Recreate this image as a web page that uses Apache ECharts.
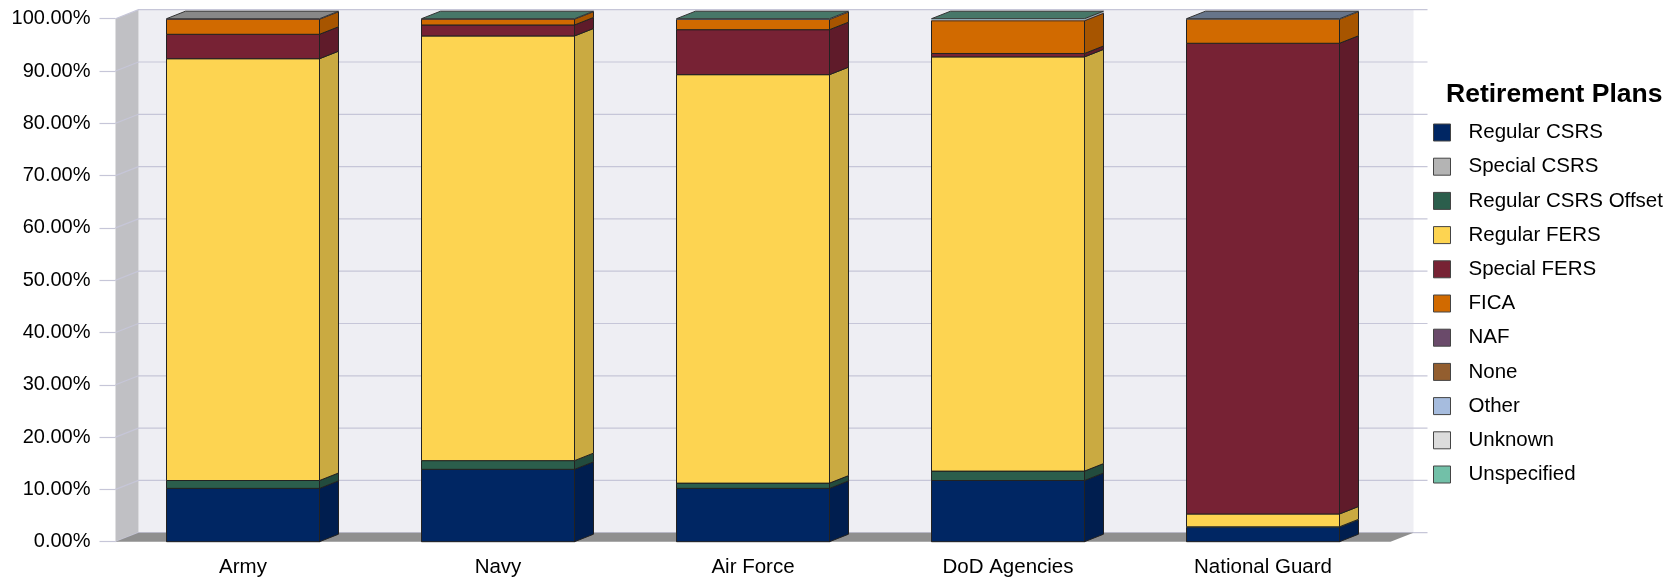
<!DOCTYPE html>
<html><head><meta charset="utf-8">
<script src="https://cdn.jsdelivr.net/npm/echarts@6/dist/echarts.min.js"></script>
<style>html,body{margin:0;padding:0;background:#fff}#c{width:1679px;height:581px}</style>
</head><body><div id="c"></div>
<script>
// ---- data ----
const categories = ['Army', 'Navy', 'Air Force', 'DoD Agencies', 'National Guard'];
const planNames = ['Regular CSRS', 'Special CSRS', 'Regular CSRS Offset', 'Regular FERS', 'Special FERS', 'FICA', 'NAF', 'None', 'Other', 'Unknown', 'Unspecified'];
const regularCSRS       = [10.20, 13.84, 10.20, 11.70,  2.75];
const specialCSRS       = [ 0.00,  0.00,  0.00,  0.00,  0.00];
const regularCSRSOffset = [ 1.50,  1.66,  1.00,  1.80,  0.10];
const regularFERS       = [80.65, 81.20, 78.10, 79.20,  2.45];
const specialFERS       = [ 4.67,  2.10,  8.60,  0.65, 90.00];
const fica              = [ 2.87,  1.10,  1.95,  6.25,  4.60];
const naf               = [ 0.04,  0.03,  0.03,  0.05,  0.00];
const none              = [ 0.00,  0.00,  0.00,  0.10,  0.00];
const other             = [ 0.05,  0.03,  0.04,  0.15,  0.10];
const unknown           = [ 0.02,  0.00,  0.00,  0.00,  0.00];
const unspecified       = [ 0.00,  0.04,  0.08,  0.10,  0.00];
const yTicks = [0, 10, 20, 30, 40, 50, 60, 70, 80, 90, 100];

const seriesValues = [regularCSRS, specialCSRS, regularCSRSOffset, regularFERS, specialFERS, fica, naf, none, other, unknown, unspecified];
const colors = ['#002663', '#b4b4b4', '#2b5e4c', '#fdd451', '#772234', '#d16a00', '#6a4a6a', '#935e2f', '#a6bcde', '#dcdcdc', '#72c0a8'];

// ---- derived stacking ----
const cum = seriesValues.map((vals, s) => vals.map((_, i) => {
  let b = 0; for (let k = 0; k < s; k++) b += seriesValues[k][i]; return b;
}));
const topIdx = categories.map((_, i) => {
  let t = -1; seriesValues.forEach((vals, s) => { if (vals[i] > 0) t = s; }); return t;
});

function shade(hex, f) {
  const n = parseInt(hex.slice(1), 16);
  const r = Math.round(((n >> 16) & 255) * f), g = Math.round(((n >> 8) & 255) * f), b = Math.round((n & 255) * f);
  return 'rgb(' + r + ',' + g + ',' + b + ')';
}

const DX = 19, DY = 7.5;      // bar depth
const WX = 23, WY = 9;        // wall depth
const FONT = 'Liberation Sans, Arial, sans-serif';

function makeRender(s) {
  const c = colors[s];
  return function (params, api) {
    const i = api.value(0), v = api.value(1);
    if (!(v > 0)) return null;
    const base = cum[s][i];
    const p0 = api.coord([i, base]);
    const p1 = api.coord([i, base + v]);
    const bw = api.size([1, 0])[0] * 0.6;
    const x0 = p0[0] - bw / 2, x1 = p0[0] + bw / 2;
    const yb = p0[1], yt = p1[1];
    const thin = (yb - yt) < 2;
    const st = thin ? null : '#222';
    const children = [
      { type: 'polygon', shape: { points: [[x1, yb], [x1 + DX, yb - DY], [x1 + DX, yt - DY], [x1, yt]] },
        style: { fill: shade(c, 0.8), stroke: st, lineWidth: 1 } },
      { type: 'rect', shape: { x: x0, y: yt, width: bw, height: yb - yt },
        style: { fill: c, stroke: st, lineWidth: 1 } }
    ];
    if (topIdx[i] === s) {
      children.push({ type: 'polygon', shape: { points: [[x0, yt], [x1, yt], [x1 + DX, yt - DY], [x0 + DX, yt - DY]] },
        style: { fill: shade(c, 0.62), stroke: '#333', lineWidth: 1 } });
    }
    return { type: 'group', children: children };
  };
}

const planSeries = planNames.map((name, s) => ({
  name: name,
  type: 'custom',
  z: 5,
  clip: false,
  itemStyle: { color: colors[s] },
  encode: { x: 0, y: 1 },
  data: categories.map((_, i) => [i, seriesValues[s][i]]),
  renderItem: makeRender(s)
}));

// walls & floor
const wallSeries = {
  type: 'custom', z: 1, clip: false, silent: true,
  data: [[0, 0]],
  renderItem: function (params, api) {
    const band = api.size([1, 0])[0];
    const xl = api.coord([0, 0])[0] - band / 2;
    const xr = api.coord([categories.length - 1, 0])[0] + band / 2;
    const y0 = api.coord([0, 0])[1];
    const y1 = api.coord([0, 100])[1];
    return { type: 'group', children: [
      { type: 'rect', shape: { x: xl + WX, y: y1 - WY, width: xr - xl, height: y0 - y1 }, style: { fill: '#eeeef3' } },
      { type: 'polygon', shape: { points: [[xl, y1], [xl + WX, y1 - WY], [xl + WX, y0 - WY], [xl, y0]] }, style: { fill: '#c0c0c4' } }
    ] };
  }
};
const gridLineSeries = {
  type: 'custom', z: 2, clip: false, silent: true,
  data: yTicks.map(v => [0, v]),
  renderItem: function (params, api) {
    const band = api.size([1, 0])[0];
    const xl = api.coord([0, 0])[0] - band / 2;
    const xr = api.coord([categories.length - 1, 0])[0] + band / 2;
    const y = api.coord([0, api.value(1)])[1];
    return { type: 'polyline', shape: { points: [[xl, y], [xl + WX, y - WY], [xr + WX + 14, y - WY]] },
      style: { stroke: '#c6c6d8', lineWidth: 1.2, fill: null } };
  }
};
const floorSeries = {
  type: 'custom', z: 3, clip: false, silent: true,
  data: [[0, 0]],
  renderItem: function (params, api) {
    const band = api.size([1, 0])[0];
    const xl = api.coord([0, 0])[0] - band / 2;
    const xr = api.coord([categories.length - 1, 0])[0] + band / 2;
    const y0 = api.coord([0, 0])[1];
    return { type: 'polygon', shape: { points: [[xl, y0], [xl + WX, y0 - WY], [xr + WX, y0 - WY], [xr, y0]] },
      style: { fill: '#8f8f8f' } };
  }
};

const chart = echarts.init(document.getElementById('c'), null, { renderer: 'canvas' });
chart.setOption({
  animation: false,
  backgroundColor: '#ffffff',
  textStyle: { fontFamily: FONT },
  title: {
    text: 'Retirement Plans', left: 1446, top: 81, padding: 0,
    textStyle: { fontFamily: FONT, fontSize: 26.5, fontWeight: 'bold', color: '#000' }
  },
  legend: {
    data: planNames, orient: 'vertical', left: 1433, top: 122, padding: 0,
    icon: 'rect', itemWidth: 17, itemHeight: 17, itemGap: 13.2,
    itemStyle: { borderColor: '#444', borderWidth: 1 },
    textStyle: { fontFamily: FONT, fontSize: 20.5, color: '#000', lineHeight: 20, padding: [0, 0, 0, 13] }
  },
  grid: { left: 115.5, right: 288.5, top: 18.7, bottom: 39.3, containLabel: false },
  xAxis: {
    type: 'category', data: categories,
    axisLine: { show: false }, axisTick: { show: false },
    axisLabel: { fontFamily: FONT, fontSize: 20.5, color: '#000', margin: 15 }
  },
  yAxis: {
    type: 'value', min: 0, max: 100, interval: 10,
    splitLine: { show: false },
    axisLine: { show: false },
    axisTick: { show: true, length: 16, lineStyle: { color: '#c6c6d8', width: 1.2 } },
    axisLabel: { fontFamily: FONT, fontSize: 20, color: '#000', margin: 25, formatter: v => v.toFixed(2) + '%' }
  },
  series: [wallSeries, gridLineSeries, floorSeries].concat(planSeries)
});
</script>
</body></html>
